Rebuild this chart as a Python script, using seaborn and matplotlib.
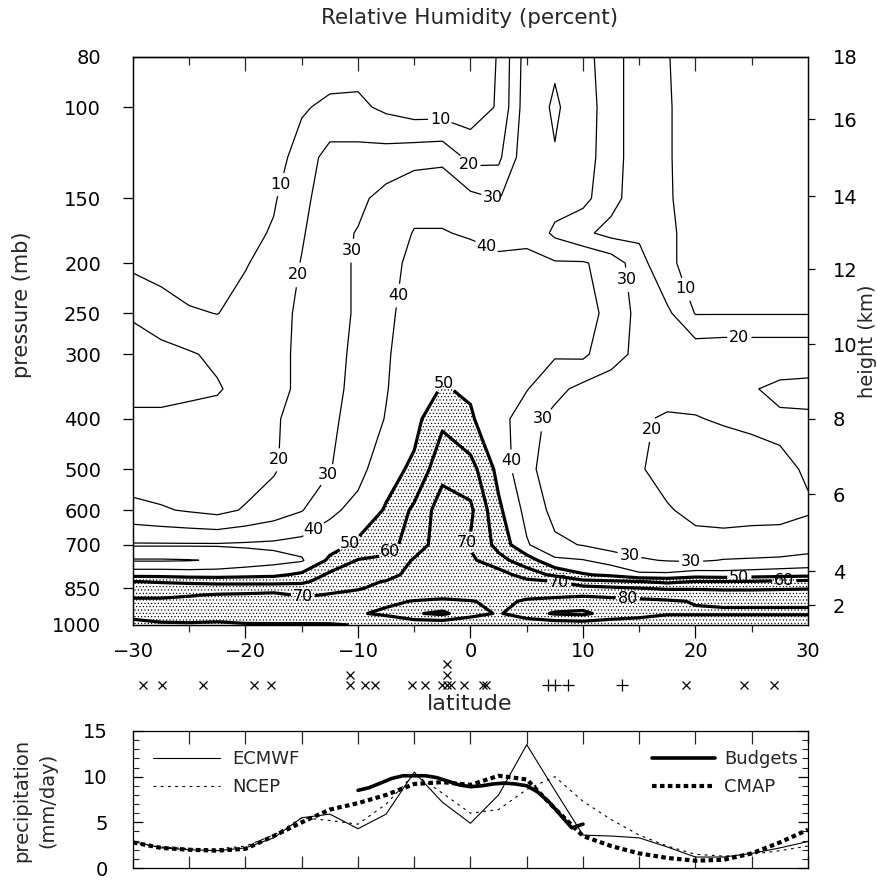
import numpy as np
import matplotlib
matplotlib.use("Agg")
import matplotlib.pyplot as plt
import matplotlib.transforms as mtransforms
from matplotlib.ticker import FixedLocator, FixedFormatter, NullFormatter, NullLocator
import seaborn as sns

sns.set_theme(style="ticks")
plt.rcParams['font.family'] = ['DejaVu Sans']
plt.rcParams['hatch.color'] = 'black'
plt.rcParams['hatch.linewidth'] = 0.45
plt.rcParams['axes.linewidth'] = 0.9
plt.rcParams['axes.edgecolor'] = 'black'

# ---------------- data ----------------
latitudes = [-30, -27.5, -25, -22.5, -20, -17.5, -15, -12.5, -10, -7.5, -5, -2.5, 0,
             2.5, 5, 7.5, 10, 12.5, 15, 17.5, 20, 22.5, 25, 27.5, 30]
pressure_levels = [80, 100, 125, 150, 175, 200, 250, 300, 350, 400, 500, 600, 700,
                   750, 800, 825, 850, 875, 900, 950, 1000]

rh_80 = [2, 2, 2, 2, 3, 3, 3, 5, 6, 5, 4, 4, 5, 10.5, 35, 39, 34, 24, 15, 10.5, 5, 4, 4, 3, 3]
rh_100 = [3, 3, 3, 3, 4, 4, 9, 12, 12, 8, 5, 5, 5, 11, 36, 41, 36, 24, 15, 11, 5, 4, 4, 3, 3]
rh_125 = [4, 4, 4, 4, 4, 6, 14, 24, 24, 25, 27, 28, 17, 18, 37, 39.5, 35, 24, 15, 11, 5, 5, 4, 4, 3]
rh_150 = [5, 5, 5, 4, 5, 9, 17, 26, 28, 33, 37, 37, 33, 29.5, 38, 34, 33, 23, 15, 11, 6, 5, 5, 4, 4]
rh_175 = [6, 5, 5, 4, 7, 11, 19, 27, 30.5, 35, 40.5, 40.5, 39, 37, 38, 28, 22, 17, 18, 11.5, 7, 6, 5, 5, 4]
rh_200 = [8, 6, 5, 4, 9.5, 13, 20.5, 27, 31, 36, 43, 44, 44, 42, 42, 41, 41, 36, 24, 11, 8, 7, 6, 6, 5]
rh_250 = [19, 15, 11, 9.8, 13, 16, 22, 27, 31, 38, 44, 46, 46, 45, 44, 44, 44, 37, 27, 22, 9.5, 9.5, 9.5, 9.5, 9.5]
rh_300 = [24, 23, 21, 18, 15, 17, 22, 27, 32, 39, 45, 48, 47, 44, 42, 41, 42, 33, 28, 25, 27, 28, 28, 28, 28]
rh_350 = [23, 23, 22, 21, 16, 17, 22, 27, 33, 39.5, 46, 50.5, 49, 43, 40.5, 33, 27, 26, 24, 23, 23, 24, 21, 17, 16]
rh_400 = [18, 18, 17, 16, 16, 19, 23, 28, 34, 40.5, 47, 58, 51, 44, 34, 27, 25, 23, 21, 19, 19.5, 21, 22, 22, 22]
rh_500 = [14, 14, 13, 13, 15, 19, 25, 29.5, 37, 46, 52, 67, 64, 47, 32, 26, 24, 22, 21, 16, 14, 13, 15, 18, 21]
rh_600 = [23, 21, 19, 17, 21, 25, 29.5, 38, 43, 51, 62, 75, 72, 52, 37, 27, 25, 22, 22, 21, 17, 17, 17, 18, 19]
rh_700 = [41, 41, 41, 41, 41.5, 42, 43.5, 46, 52, 56, 65, 75, 69, 57, 41, 32, 29.5, 26, 26, 26, 24, 23, 24, 23, 26]
rh_750 = [29, 29, 29.5, 31, 34, 36.5, 39, 52, 60.5, 62, 71, 74, 72, 63, 55, 42, 40.5, 36, 31, 29.5, 28.5, 30.5, 31, 32, 33]
rh_800 = [47, 47, 46, 46, 47, 48, 52, 62, 66, 67, 73, 74, 74, 75, 65, 58, 51, 48, 42, 42, 45, 44, 45, 46, 47]
rh_825 = [60.5, 59, 58, 57, 57, 57, 58, 65, 68, 70.5, 74, 75, 75, 76, 73, 70.5, 63, 62, 60.5, 58, 60.5, 60.5, 61, 62, 63]
rh_850 = [67, 67, 66, 66, 66, 66, 66, 68, 69.5, 72, 74, 75, 75, 77, 76, 74, 74, 72, 70.5, 69, 69, 68.5, 68.5, 69, 69.5]
rh_875 = [69, 69, 69.5, 70.5, 71, 72, 69, 70.5, 72, 74, 76, 77, 76, 78, 78, 78, 79, 78, 77, 76, 76, 75, 75, 75, 75]
rh_900 = [71, 71, 72, 73, 74, 75, 72, 74, 76, 78, 80.5, 82, 80.5, 78, 81, 83, 84, 83, 82, 81, 79.5, 79, 79, 79, 79]
rh_950 = [72, 73, 74, 75, 76, 77, 77, 78, 79, 82, 89, 92, 84, 79, 86, 91, 92, 86, 84, 81, 81, 81, 81, 81, 81]
rh_1000 = [68, 69, 69, 68, 69, 69, 69, 69, 70.5, 71, 72, 72, 71, 71, 72, 73, 74, 74, 73, 72, 72, 72, 72, 72, 72]

thin_levels = [10, 20, 30, 40]
thick_levels = [50, 60, 70, 80, 90]

pressure_ticks = [80, 100, 150, 200, 250, 300, 400, 500, 600, 700, 850, 1000]
height_km = [18, 16, 14, 12, 10, 8, 6, 4, 2]
height_pressure = [80, 105.4, 148.5, 205.4, 286.7, 400, 558.6, 786.6, 915]
lat_ticks = [-30, -20, -10, 0, 10, 20, 30]
lat_tick_labels = ['\u221230', '\u221220', '\u221210', '0', '10', '20', '30']
lat_minor_ticks = [-25, -15, -5, 5, 15, 25]

# sounding sites shown under the latitude axis
sounding_x_lats = [-29.1, -27.4, -23.8, -19.2, -17.7, -10.7, -10.7, -9.4, -8.5, -5.2, -4.0,
                   -2.5, -2.1, -1.7, -2.1, -2.1, -0.55, 1.1, 1.4, 19.2, 24.3, 27.0]
sounding_plus_lats = [6.9, 7.5, 8.7, 13.5]

# precipitation (mm/day)
precip_lats = latitudes
ecmwf_precip = [2.9, 2.2, 2.0, 1.9, 2.2, 3.3, 5.5, 5.9, 4.3, 5.9, 10.5, 7.2, 4.9, 8.0, 13.5,
                8.5, 3.6, 3.5, 3.3, 2.3, 1.2, 1.2, 1.6, 2.2, 2.9]
ncep_precip = [2.7, 2.3, 2.1, 2.1, 2.4, 3.6, 5.5, 5.2, 4.8, 7.0, 10.3, 8.2, 6.0, 6.4, 8.6,
               10.0, 7.3, 5.3, 3.6, 2.4, 1.5, 1.3, 1.5, 1.9, 2.4]
cmap_precip = [2.8, 2.2, 2.0, 1.9, 2.1, 3.5, 5.0, 6.4, 7.1, 8.0, 9.2, 9.4, 9.1, 10.1, 9.7,
               6.5, 3.5, 2.4, 1.6, 1.1, 0.8, 0.9, 1.6, 2.8, 4.2]
budget_lats = [-10, -9, -8, -7, -6, -5, -4, -3, -2, -1, 0, 1, 2, 3, 4, 5, 6, 7, 8, 9, 10]
budget_precip = [8.5, 8.8, 9.3, 9.8, 10.1, 10.1, 10.1, 9.9, 9.5, 9.1, 8.9, 9.0, 9.2, 9.3,
                 9.2, 9.0, 8.3, 7.2, 5.8, 4.4, 4.8]
precip_ticks = [0, 5, 10, 15]
precip_minor = list(range(0, 16))
precip_xticks = [-30, -25, -20, -15, -10, -5, 0, 5, 10, 15, 20, 25, 30]

# manual label anchors (lat, pressure)
thin_label_pos = [(-2.7, 107), (-17.4, 140), (19.0, 225), (-15, 211), (0, 128), (-16.6, 480),
                  (23.9, 272), (16.5, 420), (-9.7, 190), (2, 149), (14.0, 215), (-12.8, 510),
                  (5.9, 390), (19.6, 760), (-6.3, 231), (1.6, 182), (-13.8, 661), (3.6, 482),
                  (14, 755)]
thick_label_pos = [(-2.3, 340), (-10.6, 701), (23.9, 812), (-6.7, 742), (-1.3, 680),
                   (27.9, 833), (-14.9, 888), (7.9, 825), (14, 869)]

rh = np.array([rh_80, rh_100, rh_125, rh_150, rh_175, rh_200, rh_250, rh_300, rh_350, rh_400,
               rh_500, rh_600, rh_700, rh_750, rh_800, rh_825, rh_850, rh_875, rh_900, rh_950,
               rh_1000], dtype=float)

# ---------------- figure ----------------
FW, FH = 878.0, 882.0
fig = plt.figure(figsize=(FW / 100, FH / 100), dpi=100)

def fx(px):
    return px / FW

def fy(py):
    return 1 - py / FH

ax = fig.add_axes([fx(133), fy(625), (808 - 133) / FW, (625 - 57) / FH])
ax.set_yscale('log')
ax.set_xlim(-30, 30)
ax.set_ylim(1000, 80)

cf = ax.contourf(latitudes, pressure_levels, rh, levels=[50, 200], colors='none',
                 hatches=['.....'])
try:
    cf.set_hatchcolor('black')
except Exception:
    pass
cf.set_edgecolor('black')
cf.set_linewidth(0)

cs_thin = ax.contour(latitudes, pressure_levels, rh, levels=thin_levels, colors='black',
                     linewidths=0.9)
cs_thick = ax.contour(latitudes, pressure_levels, rh, levels=thick_levels, colors='black',
                      linewidths=2.3)
t1 = ax.clabel(cs_thin, manual=thin_label_pos, fmt='%d', fontsize=11.5, inline=True,
               inline_spacing=2)
t2 = ax.clabel(cs_thick, manual=thick_label_pos, fmt='%d', fontsize=11.5, inline=True,
               inline_spacing=2)
for t in list(t1) + list(t2):
    t.set_rotation(0)

ax_h = ax.twinx()
ax_h.set_yscale('log')
ax_h.set_ylim(1000, 80)
ax_h.yaxis.set_major_locator(FixedLocator(height_pressure))
ax_h.yaxis.set_major_formatter(FixedFormatter([str(h) for h in height_km]))
ax_h.yaxis.set_minor_locator(NullLocator())
ax_h.tick_params(axis='y', which='major', direction='out', length=5, width=0.9,
                 labelsize=14, pad=13, colors='black')
ax_h.grid(False)

ax.yaxis.set_major_locator(FixedLocator(pressure_ticks))
ax.yaxis.set_major_formatter(FixedFormatter([str(p) for p in pressure_ticks]))
ax.yaxis.set_minor_locator(NullLocator())
ax.tick_params(axis='y', which='major', direction='out', length=7, width=0.9, labelsize=14,
               pad=16, left=True, right=False, colors='black')
ax.xaxis.set_major_locator(FixedLocator(lat_ticks))
ax.xaxis.set_major_formatter(FixedFormatter(lat_tick_labels))
ax.xaxis.set_minor_locator(FixedLocator(lat_minor_ticks))
ax.tick_params(axis='x', which='major', direction='out', length=9, width=0.9, labelsize=14,
               pad=3, top=False, colors='black')
ax.tick_params(axis='x', which='minor', direction='out', length=5, width=0.9, top=False)
ax.grid(False)

sec = ax.secondary_xaxis('top')
sec.xaxis.set_major_locator(FixedLocator(lat_ticks))
sec.xaxis.set_major_formatter(NullFormatter())
sec.xaxis.set_minor_locator(FixedLocator(lat_minor_ticks))
sec.tick_params(which='major', direction='in', length=10, width=0.9, labeltop=False)
sec.tick_params(which='minor', direction='in', length=6, width=0.9)

# no tick marks in the corners
for axis_obj in (ax.yaxis, ax_h.yaxis, ax.xaxis, sec.xaxis):
    ticks = axis_obj.get_major_ticks()
    for tk in (ticks[0], ticks[-1]):
        tk.tick1line.set_visible(False)
        tk.tick2line.set_visible(False)
ax_h.yaxis.get_major_ticks()[-1].tick2line.set_visible(True)

# sounding markers under the axis
trans = mtransforms.blended_transform_factory(ax.transData, ax.transAxes)
base_y = -(685 - 625) / 568.0
step_y = 10.5 / 568.0
seen = {}
xs, ys = [], []
for lat in sounding_x_lats:
    k = seen.get(lat, 0)
    seen[lat] = k + 1
    xs.append(lat)
    ys.append(base_y + k * step_y)
ax.plot(xs, ys, linestyle='none', marker='x', markersize=6, markeredgewidth=0.9,
        color='black', transform=trans, clip_on=False)
ax.plot(sounding_plus_lats, [base_y] * len(sounding_plus_lats), linestyle='none', marker='+',
        markersize=8, markeredgewidth=0.9, color='black', transform=trans, clip_on=False)

fig.text(fx(470), fy(18), 'Relative Humidity (percent)', ha='center', va='center', fontsize=15.5)
fig.text(fx(470), fy(704), 'latitude', ha='center', va='center', fontsize=16)
fig.text(fx(22), fy(305), 'pressure (mb)', ha='center', va='center', rotation=90, fontsize=15)
fig.text(fx(868), fy(341), 'height (km)', ha='center', va='center', rotation=90, fontsize=14)

# ---------------- precipitation panel ----------------
axp = fig.add_axes([fx(133), fy(868), (808 - 133) / FW, (868 - 731) / FH])
sns.lineplot(x=precip_lats, y=ecmwf_precip, ax=axp, color='black', linewidth=0.8,
             estimator=None, sort=False, legend=False)
sns.lineplot(x=precip_lats, y=ncep_precip, ax=axp, color='black', linewidth=0.8,
             linestyle=(0, (2.5, 4)), estimator=None, sort=False, legend=False)
sns.lineplot(x=budget_lats, y=budget_precip, ax=axp, color='black', linewidth=2.6,
             estimator=None, sort=False, legend=False)
sns.lineplot(x=precip_lats, y=cmap_precip, ax=axp, color='black', linewidth=3.0,
             linestyle=(0, (1.1, 0.8)), estimator=None, sort=False, legend=False)
axp.set_xlim(-30, 30)
axp.set_ylim(0, 15)
axp.set_xlabel('')
axp.set_ylabel('')
axp.grid(False)
axp.xaxis.set_major_locator(FixedLocator(precip_xticks))
axp.xaxis.set_major_formatter(NullFormatter())
axp.tick_params(axis='x', which='major', direction='in', length=9, width=0.9, top=True,
                bottom=True, labelbottom=False)
axp.yaxis.set_major_locator(FixedLocator(precip_ticks))
axp.yaxis.set_major_formatter(FixedFormatter([str(v) for v in precip_ticks]))
axp.yaxis.set_minor_locator(FixedLocator(precip_minor))
axp.tick_params(axis='y', which='major', direction='in', length=7, width=0.9, left=True,
                right=True, labelsize=14, pad=18, colors='black')
axp.tick_params(axis='y', which='minor', direction='in', length=4, width=0.8, left=True,
                right=True)

lines = axp.get_lines()
leg1 = axp.legend([lines[0], lines[1]], ['ECMWF', 'NCEP'], loc='upper left',
                  bbox_to_anchor=(0.03, 0.86), frameon=False, fontsize=13, handlelength=3.7,
                  handletextpad=0.7, labelspacing=0.55, borderpad=0, borderaxespad=0)
axp.add_artist(leg1)
axp.legend([lines[2], lines[3]], ['Budgets', 'CMAP'], loc='upper right',
           bbox_to_anchor=(0.985, 0.86), frameon=False, fontsize=13, handlelength=3.5,
           handletextpad=0.5, labelspacing=0.55, borderpad=0, borderaxespad=0)

fig.text(fx(22), fy(800), 'precipitation', ha='center', va='center', rotation=90, fontsize=14)
fig.text(fx(48), fy(800), '(mm/day)', ha='center', va='center', rotation=90, fontsize=14)

fig.savefig('out.png', dpi=100)
